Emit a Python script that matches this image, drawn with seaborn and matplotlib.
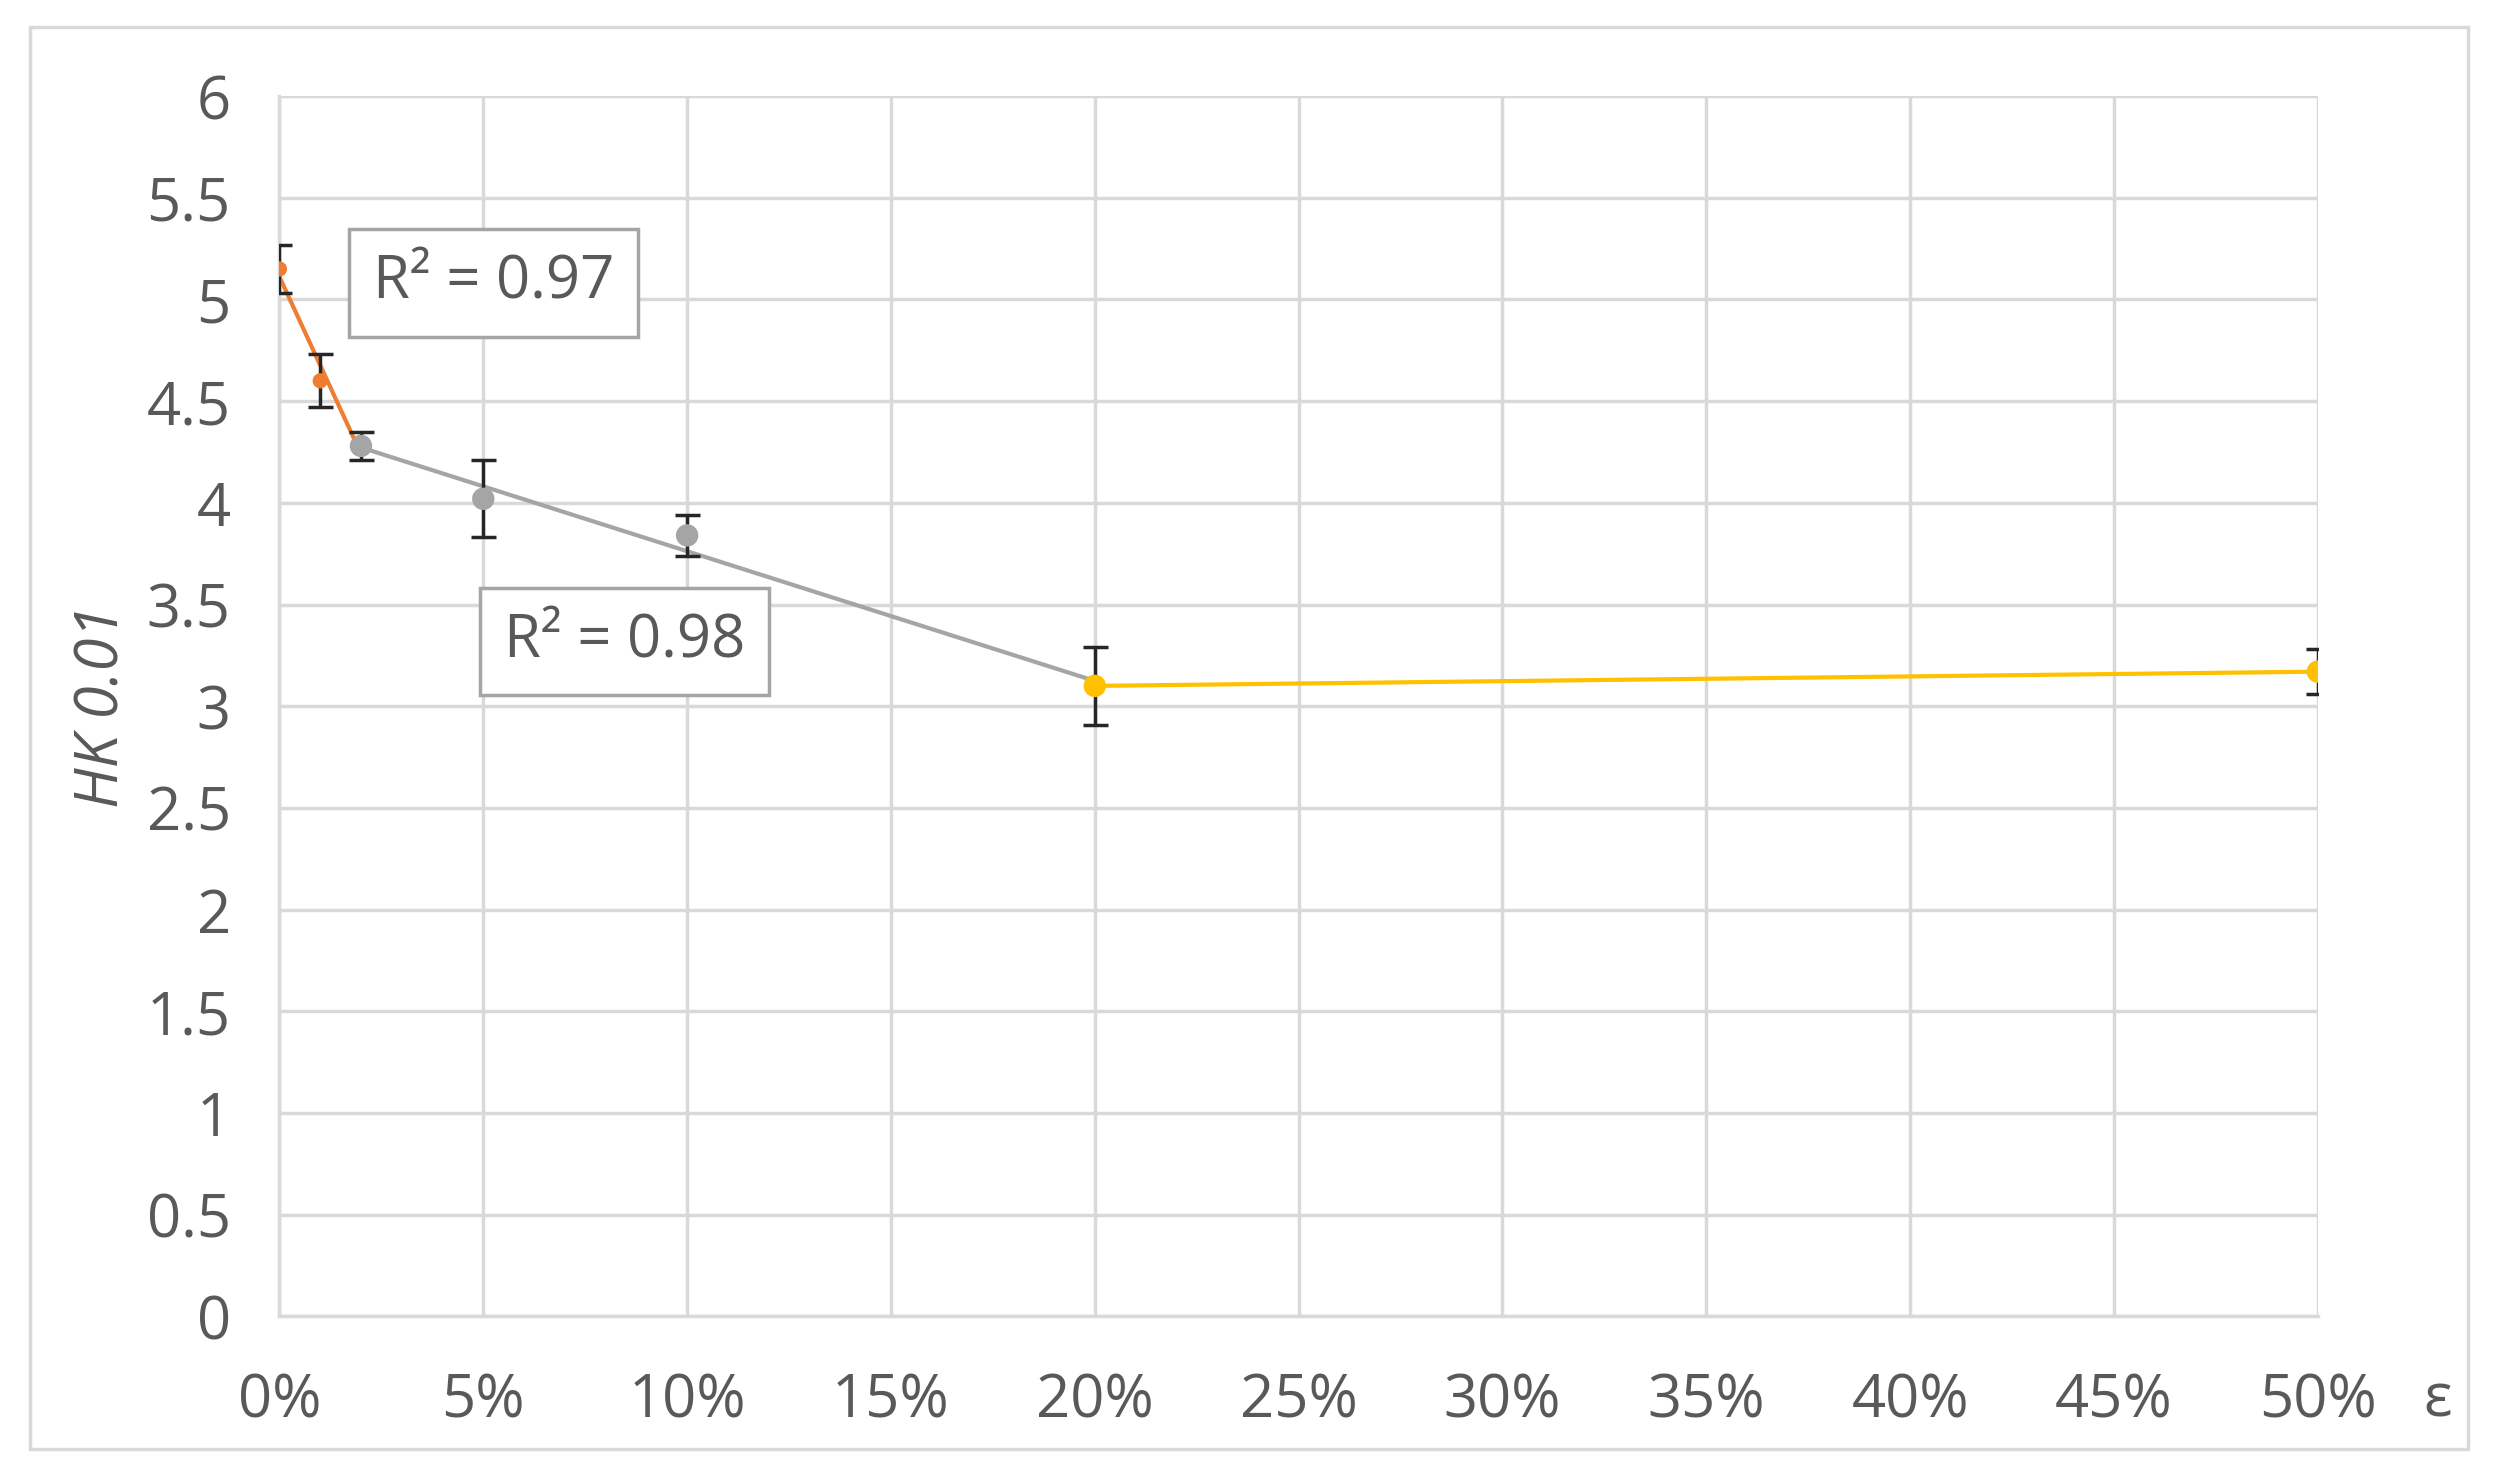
import numpy as np
import matplotlib.pyplot as plt
import seaborn as sns
from matplotlib.patches import Rectangle

# strain (fraction) and Knoop hardness values
strain = [0.00, 0.01, 0.02, 0.05, 0.10, 0.20, 0.50]
hk = [5.15, 4.60, 4.28, 4.02, 3.84, 3.10, 3.17]
err = [0.12, 0.13, 0.07, 0.19, 0.10, 0.19, 0.11]
colors = ['#ED7D31', '#ED7D31', '#A5A5A5', '#A5A5A5', '#A5A5A5', '#FFC000', '#FFC000']
sizes = [120, 120, 260, 260, 260, 260, 260]

sns.set_style('whitegrid')
plt.rcParams['font.family'] = ['Open Sans', 'DejaVu Sans']
txt = '#595959'

fig = plt.figure(figsize=(24.95, 14.79), dpi=100)
ax = fig.add_axes([0.112, 0.11, 0.817, 0.825])

# trend segments
segs = [(0, 3, '#ED7D31'), (2, 6, '#A5A5A5'), (5, 7, '#FFC000')]
for a, b, c in segs:
    x = np.array(strain[a:b]); y = np.array(hk[a:b])
    p = np.polyfit(x, y, 1)
    xs = np.array([x.min(), x.max()])
    ax.plot(xs, np.polyval(p, xs), color=c, lw=3, zorder=2)

ax.errorbar(strain, hk, yerr=err, fmt='none', ecolor='#262626', elinewidth=2.5,
            capsize=9, capthick=2.5, zorder=3)
sns.scatterplot(x=strain, y=hk, c=colors, s=sizes, edgecolor='none', ax=ax, zorder=4)

ax.set_xlim(0, 0.5)
ax.set_ylim(0, 6)
ax.set_xticks(np.arange(0, 0.51, 0.05))
ax.set_xticklabels([f'{int(round(v*100))}%' for v in np.arange(0, 0.51, 0.05)])
ax.set_yticks(np.arange(0, 6.01, 0.5))
ax.set_yticklabels([f'{v:g}' for v in np.arange(0, 6.01, 0.5)])
ax.tick_params(labelsize=43, colors=txt, length=0)
ax.tick_params(axis='x', pad=40)
ax.tick_params(axis='y', pad=35)
ax.grid(True, color='#D9D9D9', lw=2.5)
for s in ax.spines.values():
    s.set_visible(False)
ax.spines['left'].set_visible(True); ax.spines['left'].set_color('#D9D9D9'); ax.spines['left'].set_linewidth(2.5)
ax.spines['bottom'].set_visible(True); ax.spines['bottom'].set_color('#D9D9D9'); ax.spines['bottom'].set_linewidth(2.5)

ax.set_ylabel('HK 0.01', fontsize=43, color=txt, style='italic', labelpad=10)
fig.text(0.977, 0.053, 'ε', fontsize=43, color=txt, ha='center', va='center')

box = dict(boxstyle='square,pad=0.4', fc='white', ec='#A5A5A5', lw=2.5)
ax.text(0.046, 0.847, 'R² = 0.97', transform=ax.transAxes, fontsize=43, color=txt,
        ha='left', va='center', bbox=box)
ax.text(0.11, 0.553, 'R² = 0.98', transform=ax.transAxes, fontsize=43, color=txt,
        ha='left', va='center', bbox=box)

fig.patches.append(Rectangle((0.012, 0.02), 0.977, 0.962, transform=fig.transFigure,
                             fill=False, ec='#D9D9D9', lw=2.5))

fig.savefig('out.png', dpi=100)
